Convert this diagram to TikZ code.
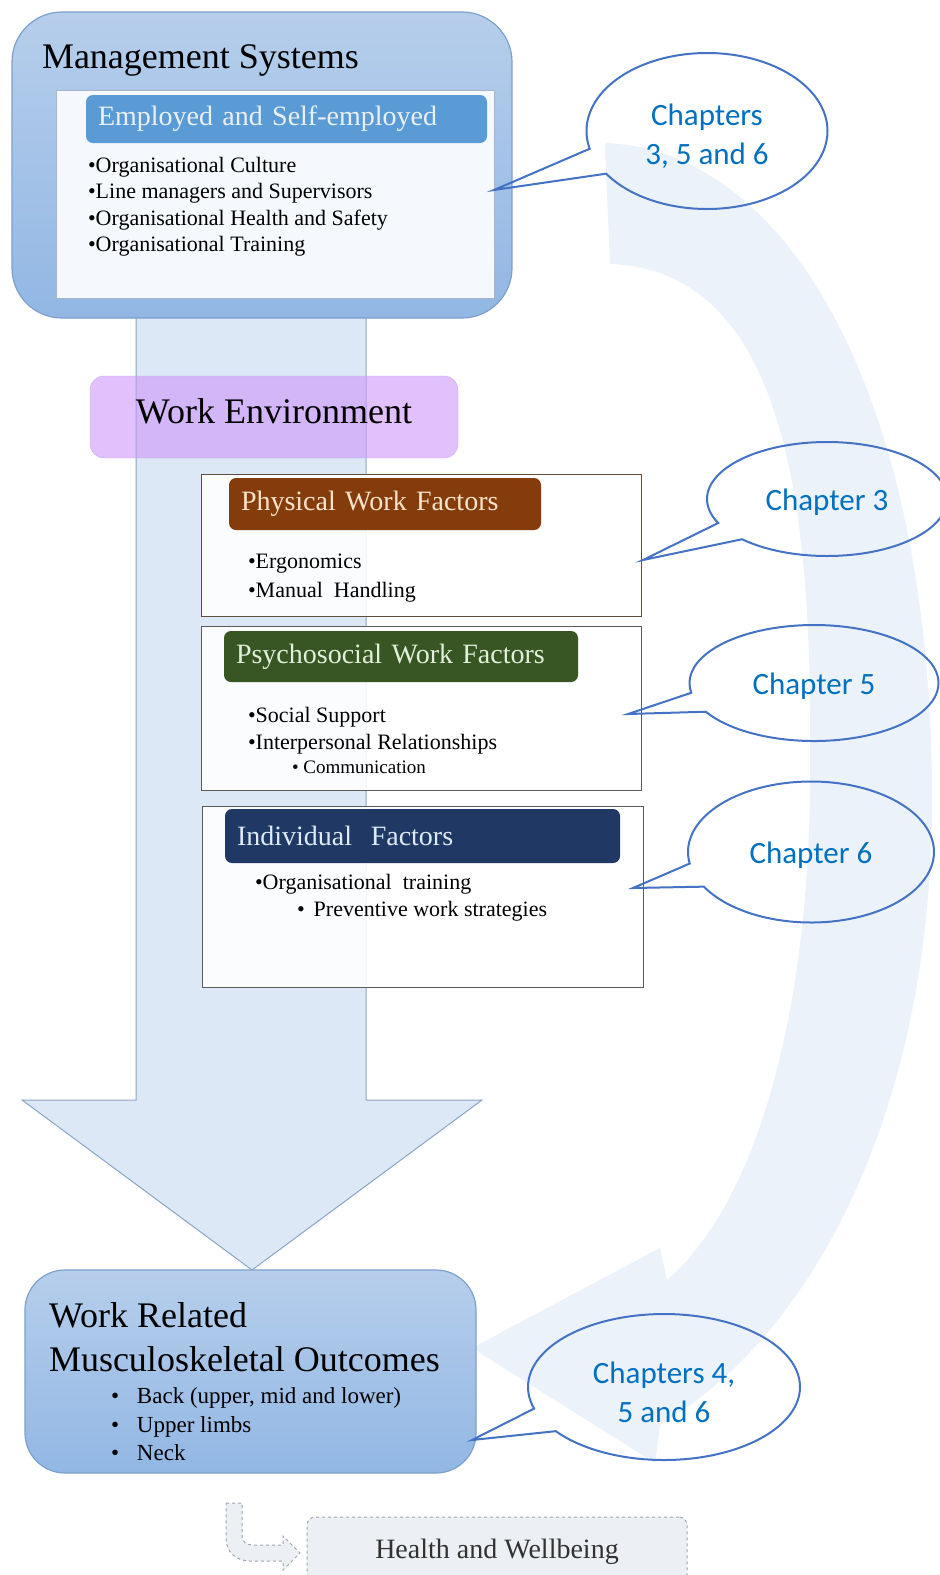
\documentclass[tikz,border=0pt]{standalone}
\usepackage{fontspec}
\setmainfont{Liberation Serif}
\newfontfamily\bubblefont{Carlito}
\usetikzlibrary{positioning,shapes.callouts}

\definecolor{boxtop}{RGB}{182,206,235}
\definecolor{boxbot}{RGB}{146,183,228}
\definecolor{boxline}{RGB}{125,160,204}
\definecolor{shaftfill}{RGB}{220,232,245}
\definecolor{shaftline}{RGB}{140,165,195}
\definecolor{loopfill}{RGB}{235,242,250}
\definecolor{panelfill}{RGB}{245,248,252}
\definecolor{panelline}{RGB}{165,182,204}
\definecolor{emphead}{RGB}{91,155,213}
\definecolor{emptext}{RGB}{234,240,248}
\definecolor{envfill}{RGB}{205,150,250}
\definecolor{envline}{RGB}{200,170,240}
\definecolor{physhead}{RGB}{132,60,12}
\definecolor{phystext}{RGB}{252,228,204}
\definecolor{physline}{RGB}{95,78,60}
\definecolor{psyhead}{RGB}{55,86,35}
\definecolor{psytext}{RGB}{226,239,218}
\definecolor{indhead}{RGB}{31,56,100}
\definecolor{indtext}{RGB}{222,234,246}
\definecolor{factorline}{RGB}{90,90,90}
\definecolor{bubbleline}{RGB}{68,114,196}
\definecolor{bubbletext}{RGB}{0,112,192}
\definecolor{healthfill}{RGB}{236,239,243}
\definecolor{healthline}{RGB}{160,166,174}
\definecolor{healthtext}{RGB}{50,50,50}

\begin{document}
\begin{tikzpicture}[x=1pt, y=-1pt,
  every node/.style={inner sep=0pt, outer sep=0pt},
  outer box/.style={draw=boxline, line width=1.2pt, rounded corners=#1,
    top color=boxtop, bottom color=boxbot, anchor=north west},
  panel/.style={draw=#1, line width=1pt, fill=white, fill opacity=.88,
    anchor=north west, minimum width=440pt},
  head/.style 2 args={fill=#1, text=#2, rounded corners=7pt, anchor=north west,
    inner xsep=12pt, align=left, font=\fontsize{28}{30}\selectfont},
  big title/.style={font=\fontsize{36}{44}\selectfont, align=left, anchor=north west},
  items/.style 2 args={font=\fontsize{#1}{#2}\selectfont, align=left, anchor=north west},
  bubble/.style={ellipse callout, draw=bubbleline, line width=2pt, text=bubbletext,
    font=\bubblefont\fontsize{31}{39}\selectfont, align=center,
    callout pointer arc=20, callout absolute pointer={#1}}
]
\fill[white] (0,0) rectangle (940,1575);
\clip (0,0) rectangle (940,1575);

% feedback loop behind everything
\fill[loopfill] (605,143) .. controls (790,150) and (932,400) .. (932,800)
  .. controls (932,1100) and (820,1330) .. (660,1425) -- (655,1463) -- (472,1348)
  -- (660,1248) -- (667,1280) .. controls (760,1200) and (812,1000) .. (810,760)
  .. controls (812,520) and (790,270) .. (610,264) -- cycle;

% main downward arrow
\filldraw[fill=shaftfill, draw=shaftline, line width=1pt] (136,300) -- (136,1100)
  -- (22,1100) -- (252,1270) -- (482,1100) -- (366,1100) -- (366,300);

% management systems
\node[outer box=50pt, minimum width=500pt, minimum height=306pt] (mgmt) at (12,12) {};
\node[big title] (mgmttitle) at (42,45) {Management Systems};
\node[draw=panelline, fill=panelfill, anchor=north west, minimum width=438pt,
  minimum height=208pt] (mgmtpanel) at (56,90) {};
\node[head={emphead}{emptext}, text width=377pt, minimum height=48pt] (emp) at (86,95)
  {Employed and Self-employed};
\node[items={22}{26.5}] (empitems) at (88,157) {•Organisational Culture\\
  •Line managers and Supervisors\\•Organisational Health and Safety\\
  •Organisational Training};

% work environment
\node[draw=envline, fill=envfill, fill opacity=.6, rounded corners=14pt,
  anchor=north west, minimum width=368pt, minimum height=82pt] (env) at (90,376) {};
\node[font=\fontsize{36}{44}\selectfont, anchor=base] (envtitle) at (274,423)
  {Work Environment};

\node[panel=physline, minimum height=142pt] (phys) at (201,474) {};
\node[head={physhead}{phystext}, text width=288pt, minimum height=52pt] (physhd)
  at (229,478) {Physical Work Factors};
\node[items={22}{29}] (physitems) at (248,554) {•Ergonomics\\•Manual~~Handling};

\node[panel=factorline, minimum height=164pt] (psy) at (201,626) {};
\node[head={psyhead}{psytext}, text width=330pt, minimum height=51pt] (psyhd)
  at (224,631) {Psychosocial Work Factors};
\node[items={22}{27}] (psyitems) at (248,707) {•Social Support\\
  •Interpersonal Relationships};
\node[font=\fontsize{19}{22}\selectfont, anchor=base west] (psysub) at (292,773)
  {• Communication};

\node[panel=factorline, minimum width=441pt, minimum height=181pt] (ind) at (202,806) {};
\node[head={indhead}{indtext}, text width=371pt, minimum height=54pt] (indhd)
  at (225,809) {Individual~~Factors};
\node[font=\fontsize{22}{27}\selectfont, anchor=base west] (inditem) at (255,889)
  {•Organisational~~training};
\node[font=\fontsize{22}{27}\selectfont, anchor=base west] (indsub) at (297,916)
  {•\hspace{9pt}Preventive work strategies};

% outcomes
\node[outer box=40pt, minimum width=451pt, minimum height=203pt] (wr) at (25,1270) {};
\node[big title] (wrtitle) at (49,1303) {Work Related\\Musculoskeletal Outcomes};
\node[items={23}{28.5}] (writems) at (111,1388) {\makebox[26pt][l]{•}Back (upper, mid and lower)\\
  \makebox[26pt][l]{•}Upper limbs\\\makebox[26pt][l]{•}Neck};

% health and wellbeing
\draw[healthline, dashed, fill=healthfill, line width=1pt] (226,1503) -- (242,1503)
  -- (242,1535) .. controls (242,1542) and (246,1545) .. (254,1545) -- (283,1545)
  -- (283,1536) -- (300,1553) -- (283,1570) -- (283,1561) -- (250,1561)
  .. controls (236,1561) and (226,1552) .. (226,1538) -- cycle;
\node[draw=healthline, dashed, line width=1pt, fill=healthfill, rounded corners=8pt,
  anchor=north west, minimum width=380pt, minimum height=70pt, text=healthtext,
  font=\fontsize{28}{30}\selectfont] (health) at (307,1517) {Health and Wellbeing};

% chapter bubbles
\coordinate (tip356) at (494,190);
\coordinate (tip3) at (643,560);
\coordinate (tip5) at (628,714);
\coordinate (tip6) at (633,888);
\coordinate (tip456) at (472,1440);
\node[bubble={(tip356)}, minimum width=241pt, minimum height=156pt] (ch356) at (707,131)
  {\rule{0pt}{32pt}Chapters\\3, 5 and 6};
\node[bubble={(tip3)}, minimum width=240pt, minimum height=114pt] (ch3) at (827,499)
  {\rule{0pt}{28pt}Chapter 3};
\node[bubble={(tip5)}, minimum width=249pt, minimum height=116pt] (ch5) at (814,683)
  {\rule{0pt}{28pt}Chapter 5};
\node[bubble={(tip6)}, minimum width=246pt, minimum height=141pt] (ch6) at (811,852)
  {\rule{0pt}{28pt}Chapter 6};
\node[bubble={(tip456)}, minimum width=272pt, minimum height=146pt] (ch456) at (664,1387)
  {\rule{0pt}{32pt}Chapters 4,\\5 and 6};
\end{tikzpicture}
\end{document}
